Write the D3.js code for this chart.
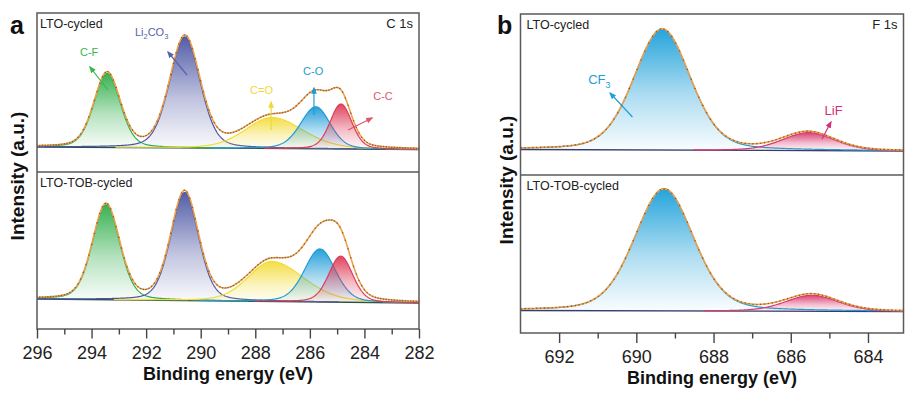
<!DOCTYPE html>
<html>
<head>
<meta charset="utf-8">
<script src="https://cdnjs.cloudflare.com/ajax/libs/d3/7.8.5/d3.min.js"></script>
<style>
  body { margin: 0; background: #fff; }
  svg { display: block; }
  text { font-family: "Liberation Sans", Arial, sans-serif; }
</style>
</head>
<body>
<div id="chart"></div>
<script>
// ---- C 1s (panel a) fitted peaks ----
var c1sNames = ["C-F", "Li_2CO_3", "C=O", "C-O", "C-C"];
var c1sColors = ["#2fae4a", "#4b55a3", "#f3dc3c", "#1e9bd7", "#dd3b57"];
var c1sLabelColors = ["#3bb54c", "#5661ac", "#efd83a", "#1f9ad6", "#e0566e"];
var c1sCenterTop = [293.43, 290.58, 287.39, 285.78, 284.86];
var c1sHeightTop = [74, 111, 31, 42, 45];
var c1sHwHiTop = [0.57, 0.66, 1.15, 0.66, 0.47];
var c1sHwLoTop = [0.57, 0.66, 1.34, 0.62, 0.47];
var c1sCenterBot = [293.47, 290.59, 287.40, 285.63, 284.87];
var c1sHeightBot = [95, 108, 40, 53, 46];
var c1sHwHiBot = [0.59, 0.6, 1.02, 0.67, 0.52];
var c1sHwLoBot = [0.59, 0.6, 1.38, 0.67, 0.52];
var c1sBaseTop = [1, -1.5];   // baseline at 296 and 282 eV
var c1sBaseBot = [1, -3];
var c1sTicks = [296, 294, 292, 290, 288, 286, 284, 282];
var c1sMinor = [295, 293, 291, 289, 287, 285, 283];

// label / arrow positions (eV, intensity) in the upper C 1s spectrum
var c1sLabelE = [294.09, 291.80, 287.77, 285.88, 283.32];
var c1sLabelI = [96, 116, 58, 77, 52];
var c1sArrowFromE = [293.40, 290.50, 287.42, 285.85, 284.60];
var c1sArrowFromI = [58, 73, 18, 33, 18];
var c1sArrowToE = [294.06, 291.20, 287.42, 285.85, 283.72];
var c1sArrowToI = [81, 96, 46, 60, 30];

// ---- F 1s (panel b) fitted peaks ----
var f1sNames = ["CF_3", "LiF"];
var f1sColors = ["#1a9fd9", "#d93a6e"];
var f1sLabelColors = ["#1ea0d8", "#d4307a"];
var f1sCenterTop = [689.33, 685.54];
var f1sHeightTop = [121, 18];
var f1sHwTop = [0.86, 0.8];
var f1sCenterBot = [689.28, 685.45];
var f1sHeightBot = [122, 16];
var f1sHwBot = [0.9, 0.8];
var f1sBaseTop = [1, -0.5];   // baseline at 693 and 683 eV
var f1sBaseBot = [0.5, -0.5];
var f1sTicks = [692, 690, 688, 686, 684];
var f1sMinor = [691, 689, 687, 685];

var f1sLabelE = [690.96, 684.89];
var f1sLabelI = [71.5, 40.5];
var f1sArrowFromE = [690.10, 685.19];
var f1sArrowFromI = [33.5, 11.5];
var f1sArrowToE = [690.68, 684.96];
var f1sArrowToI = [57.5, 28.5];

var lorentzFrac = 0.25;

var svg = d3.select("#chart").append("svg")
    .attr("width", 905)
    .attr("height", 394);
var defs = svg.append("defs");

function peakValue(e, c, h, hwHi, hwLo) {
    var w = e > c ? hwHi : hwLo;
    var u = (e - c) / w;
    return h * ((1 - lorentzFrac) * Math.exp(-Math.LN2 * u * u) + lorentzFrac / (1 + u * u));
}

var gradCount = 0;
function gradient(color) {
    var id = "grad" + (gradCount++);
    var lg = defs.append("linearGradient").attr("id", id)
        .attr("x1", 0).attr("y1", 0).attr("x2", 0).attr("y2", 1);
    lg.append("stop").attr("offset", "0%").attr("stop-color", color).attr("stop-opacity", 0.95);
    lg.append("stop").attr("offset", "55%").attr("stop-color", color).attr("stop-opacity", 0.35);
    lg.append("stop").attr("offset", "100%").attr("stop-color", color).attr("stop-opacity", 0.02);
    return "url(#" + id + ")";
}

var markerCount = 0;
function arrowMarker(color) {
    var id = "arr" + (markerCount++);
    defs.append("marker").attr("id", id)
        .attr("viewBox", "0 0 10 10").attr("refX", 8).attr("refY", 5)
        .attr("markerWidth", 6).attr("markerHeight", 6)
        .attr("orient", "auto")
        .append("path").attr("d", "M0,1 L10,5 L0,9 Z").attr("fill", color);
    return "url(#" + id + ")";
}

function drawSpectrum(g, x, y, peaks, base, baseColor, step) {
    var dom = x.domain();
    var lo = Math.min(dom[0], dom[1]), hi = Math.max(dom[0], dom[1]);
    var energies = d3.range(lo, hi + 0.001, 0.02);
    var baseAt = function(e) { return base[0] + (base[1] - base[0]) * (e - dom[0]) / (dom[1] - dom[0]); };

    g.append("line")
        .attr("x1", x(dom[0])).attr("x2", x(dom[1]))
        .attr("y1", y(base[0])).attr("y2", y(base[1]))
        .attr("stroke", baseColor).attr("stroke-width", 1.3);

    peaks.forEach(function(p) {
        var pts = energies.map(function(e) {
            return { e: e, b: baseAt(e), v: baseAt(e) + peakValue(e, p.c, p.h, p.hwHi, p.hwLo) };
        }).filter(function(d) { return d.v - d.b > 0.3; });
        var area = d3.area()
            .x(function(d) { return x(d.e); })
            .y0(function(d) { return y(d.b); })
            .y1(function(d) { return y(d.v); });
        g.append("path").datum(pts)
            .attr("d", area)
            .attr("fill", gradient(p.color));
        g.append("path").datum(pts)
            .attr("d", d3.line().x(function(d) { return x(d.e); }).y(function(d) { return y(d.v); }))
            .attr("fill", "none")
            .attr("stroke", p.color)
            .attr("stroke-width", 1.2);
    });

    var total = function(e) {
        return baseAt(e) + d3.sum(peaks, function(p) { return peakValue(e, p.c, p.h, p.hwHi, p.hwLo); });
    };
    g.append("path").datum(energies)
        .attr("d", d3.line().x(function(e) { return x(e); }).y(function(e) { return y(total(e)); }))
        .attr("fill", "none")
        .attr("stroke", "#f0a04a")
        .attr("stroke-width", 1.6);

    g.append("g").selectAll("circle")
        .data(d3.range(lo, hi, step))
        .enter().append("circle")
        .attr("cx", function(e) { return x(e); })
        .attr("cy", function(e) { return y(total(e)); })
        .attr("r", 0.8)
        .attr("fill", "#222")
        .attr("opacity", 0.5);
}

function makePeaks(centers, heights, hwHi, hwLo, colors) {
    return centers.map(function(c, i) {
        return { c: c, h: heights[i], hwHi: hwHi[i], hwLo: hwLo[i], color: colors[i] };
    });
}

function drawLabels(g, x, y, names, colors, le, li, fe, fi, te, ti, size) {
    names.forEach(function(n, i) {
        var t = g.append("text")
            .attr("x", x(le[i])).attr("y", y(li[i]) + size * 0.36)
            .attr("text-anchor", "middle")
            .attr("font-size", size)
            .attr("fill", colors[i]);
        // "_d" marks a subscript digit
        var parts = n.split(/_(\d)/);
        var shift = size * 0.3, lowered = false;
        parts.forEach(function(s, k) {
            if (!s) return;
            var sp = t.append("tspan").text(s);
            if (k % 2 === 1) {
                sp.attr("dy", shift).attr("font-size", size * 0.68);
                lowered = true;
            } else if (lowered) {
                sp.attr("dy", -shift);
                lowered = false;
            }
        });
        g.append("line")
            .attr("x1", x(fe[i])).attr("y1", y(fi[i]))
            .attr("x2", x(te[i])).attr("y2", y(ti[i]))
            .attr("stroke", colors[i]).attr("stroke-width", 1.2)
            .attr("marker-end", arrowMarker(colors[i]));
    });
}

function drawPanel(opt) {
    var g = svg.append("g");
    var x = d3.scaleLinear().domain(opt.xDomain).range([opt.left, opt.right]);
    var yTop = d3.scaleLinear().domain(opt.yTopDomain).range([opt.mid, opt.top]);
    var yBot = d3.scaleLinear().domain(opt.yBotDomain).range([opt.bottom, opt.mid]);

    drawSpectrum(g, x, yTop, opt.peaksTop, opt.baseTop, opt.baseColor, 0.1);
    drawSpectrum(g, x, yBot, opt.peaksBot, opt.baseBot, opt.baseColor, 0.1);
    drawLabels(g, x, yTop, opt.names, opt.labelColors, opt.labelE, opt.labelI,
        opt.fromE, opt.fromI, opt.toE, opt.toI, opt.labelSize);

    // frame
    g.append("rect")
        .attr("x", opt.left).attr("y", opt.top)
        .attr("width", opt.right - opt.left).attr("height", opt.bottom - opt.top)
        .attr("fill", "none").attr("stroke", "#5a5a5a").attr("stroke-width", 1.5);
    g.append("line")
        .attr("x1", opt.left).attr("x2", opt.right)
        .attr("y1", opt.mid).attr("y2", opt.mid)
        .attr("stroke", "#5a5a5a").attr("stroke-width", 1.5);

    // axis
    var ax = g.append("g").attr("transform", "translate(0," + opt.bottom + ")")
        .call(d3.axisBottom(x).tickValues(opt.ticks).tickSize(opt.tickLen)
            .tickPadding(opt.tickPad).tickFormat(d3.format("d")));
    ax.select(".domain").remove();
    ax.selectAll("line").attr("stroke", "#444").attr("stroke-width", 1.4);
    ax.selectAll("text").attr("font-size", 18).attr("fill", "#222")
        .attr("font-family", "Liberation Sans, Arial, sans-serif");
    var axm = g.append("g").attr("transform", "translate(0," + opt.bottom + ")")
        .call(d3.axisBottom(x).tickValues(opt.minor).tickSize(5.5).tickFormat(""));
    axm.select(".domain").remove();
    axm.selectAll("line").attr("stroke", "#444").attr("stroke-width", 1.4);

    g.append("text")
        .attr("x", (opt.left + opt.right) / 2).attr("y", opt.titleY)
        .attr("text-anchor", "middle").attr("font-size", 18).attr("font-weight", "bold")
        .attr("fill", "#111").text("Binding energy (eV)");
    g.append("text")
        .attr("transform", "translate(" + opt.yTitleX + "," + opt.yTitleY + ") rotate(-90)")
        .attr("text-anchor", "middle").attr("font-size", 19).attr("font-weight", "bold")
        .attr("fill", "#111").text("Intensity (a.u.)");

    g.append("text").attr("x", opt.letterX).attr("y", 34)
        .attr("font-size", 25).attr("font-weight", "bold").attr("fill", "#111").text(opt.letter);
    g.append("text").attr("x", opt.left + opt.textInset).attr("y", opt.top + 15)
        .attr("font-size", 12.5).attr("fill", "#222").text("LTO-cycled");
    g.append("text").attr("x", opt.right - 6).attr("y", opt.top + 15)
        .attr("text-anchor", "end").attr("font-size", 13).attr("fill", "#222").text(opt.region);
    g.append("text").attr("x", opt.left + opt.textInset).attr("y", opt.mid + 15)
        .attr("font-size", 12.5).attr("fill", "#222").text("LTO-TOB-cycled");
}

drawPanel({
    left: 37, right: 419, top: 13, mid: 172, bottom: 329,
    xDomain: [296, 282], yTopDomain: [-24, 135], yBotDomain: [-29, 128],
    peaksTop: makePeaks(c1sCenterTop, c1sHeightTop, c1sHwHiTop, c1sHwLoTop, c1sColors),
    peaksBot: makePeaks(c1sCenterBot, c1sHeightBot, c1sHwHiBot, c1sHwLoBot, c1sColors),
    baseTop: c1sBaseTop, baseBot: c1sBaseBot, baseColor: "#2d5240",
    names: c1sNames, labelColors: c1sLabelColors, labelSize: 11,
    labelE: c1sLabelE, labelI: c1sLabelI,
    fromE: c1sArrowFromE, fromI: c1sArrowFromI, toE: c1sArrowToE, toI: c1sArrowToI,
    ticks: c1sTicks, minor: c1sMinor, tickLen: 9.5, tickPad: 7.5,
    titleY: 380, yTitleX: 24, yTitleY: 176,
    letter: "a", letterX: 10, region: "C 1s", textInset: 3
});

drawPanel({
    left: 520.5, right: 903.5, top: 14, mid: 175, bottom: 333,
    xDomain: [693, 683.08], yTopDomain: [-24.5, 136.5], yBotDomain: [-22, 136],
    peaksTop: makePeaks(f1sCenterTop, f1sHeightTop, f1sHwTop, f1sHwTop, f1sColors),
    peaksBot: makePeaks(f1sCenterBot, f1sHeightBot, f1sHwBot, f1sHwBot, f1sColors),
    baseTop: f1sBaseTop, baseBot: f1sBaseBot, baseColor: "#363c6c",
    names: f1sNames, labelColors: f1sLabelColors, labelSize: 13,
    labelE: f1sLabelE, labelI: f1sLabelI,
    fromE: f1sArrowFromE, fromI: f1sArrowFromI, toE: f1sArrowToE, toI: f1sArrowToI,
    ticks: f1sTicks, minor: f1sMinor, tickLen: 10, tickPad: 7,
    titleY: 384, yTitleX: 513, yTitleY: 180,
    letter: "b", letterX: 497, region: "F 1s", textInset: 6
});
</script>
</body>
</html>
